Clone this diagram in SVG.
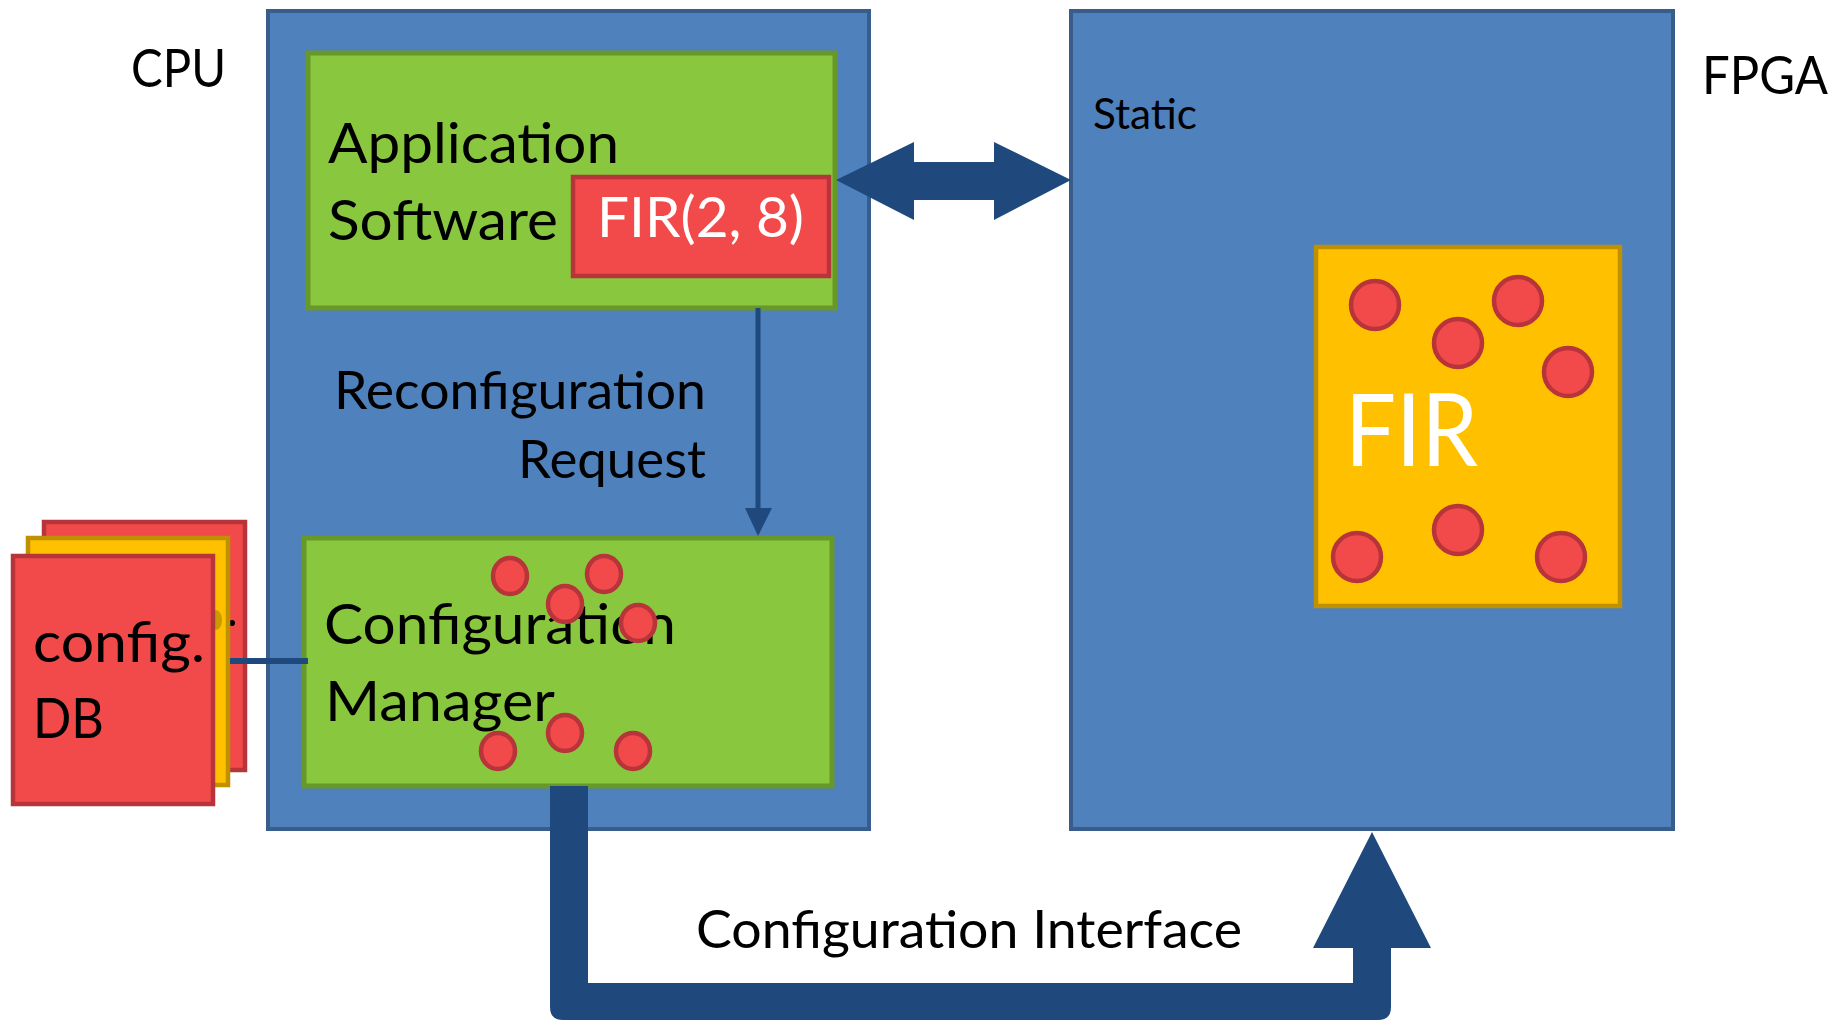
<svg xmlns="http://www.w3.org/2000/svg" width="1837" height="1021" viewBox="0 0 1837 1021">
<style>
.txt{font-family:Lato,"Liberation Sans",sans-serif;fill:#000}
.wt{font-family:Lato,"Liberation Sans",sans-serif;fill:#fff}
.blue{fill:#4F81BD;stroke:#385D8A;stroke-width:4}
.green{fill:#89C83E;stroke:#68972A;stroke-width:5}
.red{fill:#F24A4A;stroke:#B7343A;stroke-width:4.5}
.yel{fill:#FFC000;stroke:#BF9000;stroke-width:4.5}
.dot{fill:#F24A4A;stroke:#B7343A;stroke-width:4.5}
.conn{fill:#1F497D}
</style>
<rect width="1837" height="1021" fill="#fff"/>
<text class="txt" x="131" y="87" font-size="53" textLength="95" lengthAdjust="spacingAndGlyphs">CPU</text>
<text class="txt" x="1702" y="94" font-size="53" textLength="126" lengthAdjust="spacingAndGlyphs">FPGA</text>

<g id="cpu">
<rect class="blue" x="268" y="11" width="601" height="818"/>
</g>

<g id="fpga">
<rect class="blue" x="1071" y="11" width="602" height="818"/>
<text class="txt" x="1093" y="129" font-size="42" textLength="104" lengthAdjust="spacingAndGlyphs">Static</text>
</g>

<g id="fir-region">
<rect class="yel" x="1316" y="247" width="304" height="359"/>
<text class="wt" x="1345" y="466" font-size="101" textLength="133" lengthAdjust="spacingAndGlyphs">FIR</text>
<circle class="dot" cx="1375" cy="305" r="24"/>
<circle class="dot" cx="1518" cy="301" r="24"/>
<circle class="dot" cx="1458" cy="343" r="24"/>
<circle class="dot" cx="1568" cy="372" r="24"/>
<circle class="dot" cx="1357" cy="557" r="24"/>
<circle class="dot" cx="1458" cy="530" r="24"/>
<circle class="dot" cx="1561" cy="557" r="24"/>
</g>

<g id="app">
<rect class="green" x="308" y="53" width="527" height="255"/>
<text class="txt" x="328" y="163" font-size="57" textLength="291" lengthAdjust="spacingAndGlyphs">Application</text>
<text class="txt" x="328" y="240" font-size="57" textLength="230" lengthAdjust="spacingAndGlyphs">Software</text>
</g>

<g id="fir-call">
<rect class="red" x="573" y="177" width="256" height="99"/>
<text class="wt" x="597" y="237" font-size="57" textLength="207" lengthAdjust="spacingAndGlyphs">FIR(2, 8)</text>
</g>

<g id="cm">
<rect class="green" x="304" y="538" width="528" height="248"/>
<text class="txt" x="324" y="644" font-size="57" textLength="352" lengthAdjust="spacingAndGlyphs">Configuration</text>
<text class="txt" x="325" y="721" font-size="57" textLength="230" lengthAdjust="spacingAndGlyphs">Manager</text>
<ellipse class="dot" cx="510" cy="576" rx="17" ry="18"/>
<ellipse class="dot" cx="604" cy="574" rx="17" ry="18"/>
<ellipse class="dot" cx="565" cy="604" rx="17" ry="18"/>
<ellipse class="dot" cx="638" cy="623" rx="17" ry="18"/>
<ellipse class="dot" cx="498" cy="751" rx="17" ry="18"/>
<ellipse class="dot" cx="565" cy="733" rx="17" ry="18"/>
<ellipse class="dot" cx="633" cy="751" rx="17" ry="18"/>
</g>

<g id="configdb">
<rect class="red" x="44" y="522" width="201" height="248"/>
<circle cx="232" cy="623" r="3" fill="#000"/>
<rect class="yel" x="28" y="538" width="200" height="247"/>
<ellipse cx="216" cy="620" rx="6" ry="10" fill="#C89B00"/>
<rect class="red" x="13" y="556" width="200" height="248"/>
<text class="txt" x="33" y="662" font-size="57" textLength="172" lengthAdjust="spacingAndGlyphs">config.</text>
<text class="txt" x="33" y="738" font-size="57" textLength="71" lengthAdjust="spacingAndGlyphs">DB</text>
</g>

<g id="connectors">
<rect class="conn" x="230" y="658" width="78" height="6"/>
<line x1="758" y1="308" x2="758" y2="512" stroke="#1F497D" stroke-width="5"/>
<polygon class="conn" points="745,508 772,508 758,536"/>
<polygon class="conn" points="836,180 914,142 914,162 994,162 994,142 1071,180 994,220 994,200 914,200 914,220"/>
<path class="conn" d="M550,786 L588,786 L588,983 L1353,983 L1353,948 L1313,948 L1372,832 L1431,948 L1391,948 L1391,1007 Q1391,1020 1378,1020 L563,1020 Q550,1020 550,1007 Z"/>
<text class="txt" x="334" y="409" font-size="52" textLength="372" lengthAdjust="spacingAndGlyphs">Reconfiguration</text>
<text class="txt" x="518" y="478" font-size="52" textLength="188" lengthAdjust="spacingAndGlyphs">Request</text>
<text class="txt" x="696" y="948" font-size="53" textLength="546" lengthAdjust="spacingAndGlyphs">Configuration Interface</text>
</g>
</svg>
